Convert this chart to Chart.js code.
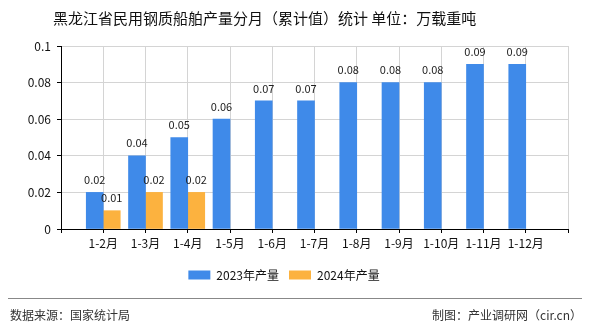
<!DOCTYPE html>
<html>
<head>
<meta charset="utf-8">
<script src="https://cdn.jsdelivr.net/npm/chart.js@4/dist/chart.umd.min.js"></script>
<style>
  html, body { margin: 0; padding: 0; background: #fff; }
  #wrap { position: relative; width: 590px; height: 330px; }
</style>
</head>
<body>
<div id="wrap"><canvas id="chart" width="590" height="330"></canvas></div>
<script>
// chart data
const months = ['1-2月', '1-3月', '1-4月', '1-5月', '1-6月', '1-7月', '1-8月', '1-9月', '1-10月', '1-11月', '1-12月'];
const output2023 = [0.02, 0.04, 0.05, 0.06, 0.07, 0.07, 0.08, 0.08, 0.08, 0.09, 0.09];
const output2024 = [0.01, 0.02, 0.02];
const yTicks = [0, 0.02, 0.04, 0.06, 0.08, 0.1];

const titleText = '黑龙江省民用钢质船舶产量分月（累计值）统计 单位：万载重吨';
const sourceText = '数据来源：国家统计局';
const creditText = '制图：产业调研网（cir.cn）';
const FONT = "'Noto Sans CJK SC', 'DejaVu Sans', sans-serif";

// axis has an empty slot on both ends, bars sit on the ticks
const labels = ['', ...months, ''];
const pad = arr => {
  const out = [null];
  for (let i = 0; i < months.length; i++) out.push(i < arr.length ? arr[i] : null);
  out.push(null);
  return out;
};

// draws value above each bar + title and footer
const extras = {
  id: 'extras',
  afterDatasetsDraw(chart) {
    const ctx = chart.ctx;
    ctx.save();
    ctx.font = '11px ' + FONT;
    ctx.fillStyle = '#222';
    ctx.textAlign = 'center';
    ctx.textBaseline = 'bottom';
    chart.data.datasets.forEach((ds, i) => {
      const meta = chart.getDatasetMeta(i);
      meta.data.forEach((bar, j) => {
        const v = ds.data[j];
        if (v === null || v === undefined) return;
        ctx.fillText(String(v), bar.x, bar.y - 7);
      });
    });
    ctx.restore();
  },
  afterDraw(chart) {
    const ctx = chart.ctx;
    ctx.save();
    ctx.fillStyle = '#111';
    ctx.font = '15px ' + FONT;
    ctx.textAlign = 'left';
    ctx.textBaseline = 'middle';
    ctx.fillText(titleText, 53, 18);

    ctx.strokeStyle = '#888';
    ctx.lineWidth = 1;
    ctx.beginPath();
    ctx.moveTo(8, 298.5);
    ctx.lineTo(582, 298.5);
    ctx.stroke();

    ctx.font = '12px ' + FONT;
    ctx.fillStyle = '#333';
    ctx.textAlign = 'left';
    ctx.fillText(sourceText, 10, 315);
    ctx.textAlign = 'right';
    ctx.fillText(creditText, 582, 315);
    ctx.restore();
  }
};

new Chart(document.getElementById('chart'), {
  type: 'bar',
  data: {
    labels: labels,
    datasets: [
      { label: '2023年产量', data: pad(output2023), backgroundColor: '#3f8ae9', barThickness: 17 },
      { label: '2024年产量', data: pad(output2024), backgroundColor: '#fcb23f', barThickness: 17 }
    ]
  },
  options: {
    responsive: false,
    animation: false,
    layout: { padding: { left: 0, right: 22, top: 46, bottom: 39 } },
    plugins: {
      legend: {
        position: 'bottom',
        labels: {
          boxWidth: 22,
          boxHeight: 9,
          padding: 10,
          color: '#111',
          font: { family: FONT, size: 12 }
        }
      },
      tooltip: { enabled: false }
    },
    scales: {
      x: {
        offset: false,
        grid: { offset: false, color: '#d4d4d4', tickColor: '#000', tickLength: 4 },
        border: { color: '#000' },
        ticks: { color: '#111', padding: 3, autoSkip: false, maxRotation: 0, font: { family: FONT, size: 12 } },
        afterFit(scale) { scale.height = 30; }
      },
      y: {
        min: 0,
        max: 0.1,
        afterBuildTicks(scale) { scale.ticks = yTicks.map(v => ({ value: v })); },
        grid: { color: '#d4d4d4', tickColor: '#000', tickLength: 4 },
        border: { color: '#000' },
        ticks: {
          color: '#111',
          padding: 6,
          font: { family: FONT, size: 12 },
          callback: v => String(Number(v.toFixed(2)))
        },
        afterFit(scale) { scale.width = 61; }
      }
    }
  },
  plugins: [extras]
});
</script>
</body>
</html>
